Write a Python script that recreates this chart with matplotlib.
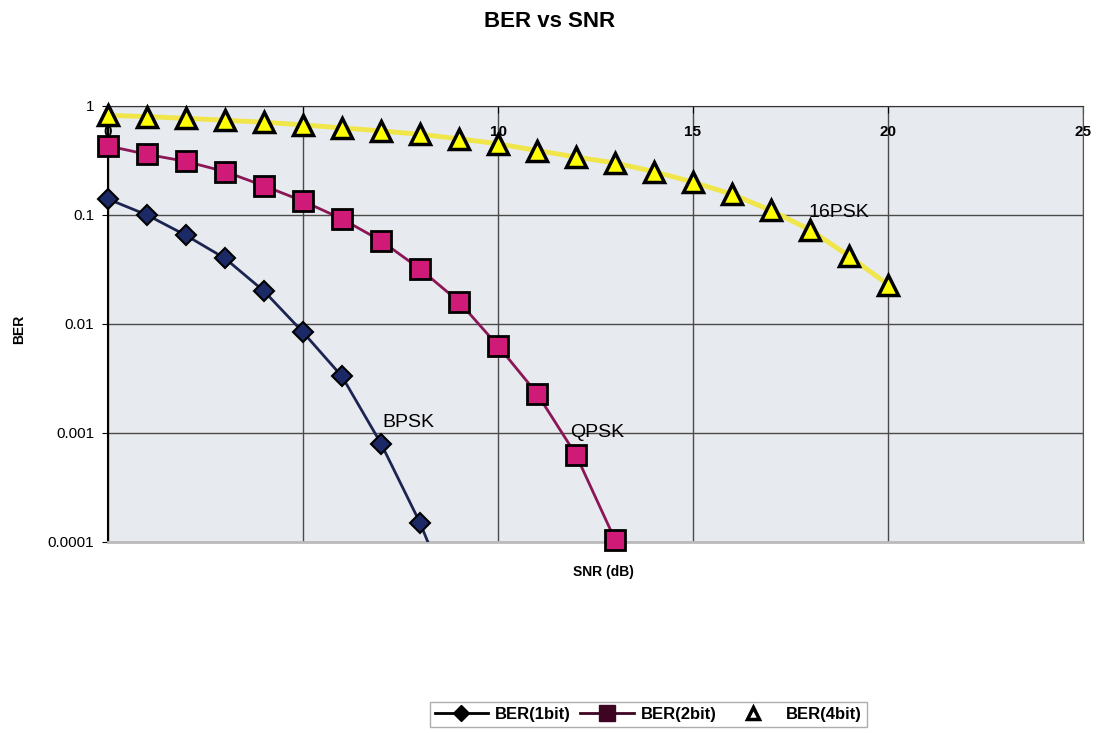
import matplotlib.pyplot as plt
from matplotlib.lines import Line2D
from matplotlib.ticker import FixedLocator, FixedFormatter

plt.rcParams['font.family'] = ['Liberation Sans', 'DejaVu Sans']

# data
snr_bpsk = [0, 1, 2, 3, 4, 5, 6, 7, 8, 9]
ber_bpsk = [0.14, 0.10, 0.065, 0.04, 0.02, 0.0084, 0.0033, 0.0008, 0.00015, 0.00002]

snr_qpsk = [0, 1, 2, 3, 4, 5, 6, 7, 8, 9, 10, 11, 12, 13]
ber_qpsk = [0.43, 0.36, 0.31, 0.25, 0.185, 0.134, 0.092, 0.058, 0.032, 0.016,
            0.0063, 0.0023, 0.00063, 0.000105]

snr_16psk = list(range(21))
ber_16psk = [0.82, 0.80, 0.77, 0.74, 0.71, 0.67, 0.63, 0.59, 0.55, 0.50, 0.45,
             0.39, 0.34, 0.30, 0.25, 0.20, 0.155, 0.11, 0.073, 0.042, 0.023]

y_ticks = [1, 0.1, 0.01, 0.001, 0.0001]
y_labels = ['1', '0.1', '0.01', '0.001', '0.0001']
x_ticks = [0, 5, 10, 15, 20, 25]

fig = plt.figure(figsize=(10.99, 7.33), dpi=100)
ax = fig.add_axes([0.0983, 0.2606, 0.8871, 0.5948])
ax.set_facecolor('#e7eaef')

# BPSK line runs off the bottom, so line clipped, visible markers not
ax.plot(snr_bpsk, ber_bpsk, color='#1c2452', lw=2, zorder=4)
vis = [(s, b) for s, b in zip(snr_bpsk, ber_bpsk) if b >= 0.0001]
ax.plot([v[0] for v in vis], [v[1] for v in vis], ls='none', marker='D', ms=10,
        mfc='#1b2a66', mec='black', mew=1.5, zorder=4, clip_on=False)
ax.plot(snr_qpsk, ber_qpsk, color='#8a1656', lw=2, marker='s', ms=14,
        mfc='#cf1a78', mec='black', mew=2, zorder=5, clip_on=False)
ax.plot(snr_16psk, ber_16psk, color='#f0e64a', lw=3.5, marker='^', ms=14,
        mfc='#ffff00', mec='black', mew=2.5, zorder=6, clip_on=False)

ax.set_yscale('log')
ax.set_ylim(0.0001, 1)
ax.set_xlim(0, 25)
ax.yaxis.set_major_locator(FixedLocator(y_ticks))
ax.yaxis.set_major_formatter(FixedFormatter(y_labels))
ax.yaxis.set_minor_locator(FixedLocator([]))
ax.set_xticks(x_ticks)
ax.xaxis.set_ticks_position('top')
ax.tick_params(axis='x', top=True, bottom=False, labeltop=True, labelbottom=False,
               direction='in', length=5, pad=-24, labelsize=11)
for lab in ax.get_xticklabels():
    lab.set_fontweight('bold')
ax.tick_params(axis='y', direction='out', length=4, labelsize=11, pad=6)

ax.grid(True, color='#4a4a4a', lw=1)
ax.set_axisbelow(True)
ax.spines['left'].set_color('black')
ax.spines['left'].set_linewidth(1.5)
ax.spines['top'].set_color('#333333')
ax.spines['right'].set_color('#555555')
ax.spines['bottom'].set_color('#bbbbbb')
ax.spines['bottom'].set_linewidth(2)

ax.text(7.7, 0.00105, 'BPSK', fontsize=14, ha='center', va='bottom')
ax.text(12.55, 0.00085, 'QPSK', fontsize=14, ha='center', va='bottom')
ax.text(18.75, 0.088, '16PSK', fontsize=14, ha='center', va='bottom')

fig.text(0.5, 0.97, 'BER vs SNR', fontsize=16, fontweight='bold', ha='center', va='center')
fig.text(0.549, 0.22, 'SNR (dB)', fontsize=10, fontweight='bold', ha='center', va='center')
fig.text(0.017, 0.55, 'BER', fontsize=10, fontweight='bold', rotation=90, ha='center', va='center')

handles = [
    Line2D([], [], color='black', lw=2, marker='D', ms=8, mfc='black', mec='black'),
    Line2D([], [], color='#3d0522', lw=2, marker='s', ms=12, mfc='#3d0522', mec='#3d0522'),
    Line2D([], [], color='none', lw=0, marker='^', ms=9, mfc='white', mec='black', mew=2.5),
]
leg = fig.legend(handles, ['BER(1bit)', 'BER(2bit)', 'BER(4bit)'], loc='center',
                 bbox_to_anchor=(0.59, 0.025), ncol=3, frameon=True, fancybox=False,
                 prop={'weight': 'bold', 'size': 12}, handlelength=3.2,
                 columnspacing=0.6, handletextpad=0.4, borderpad=0.3)
leg.get_frame().set_edgecolor('#999999')

fig.savefig('out.png', dpi=100)
